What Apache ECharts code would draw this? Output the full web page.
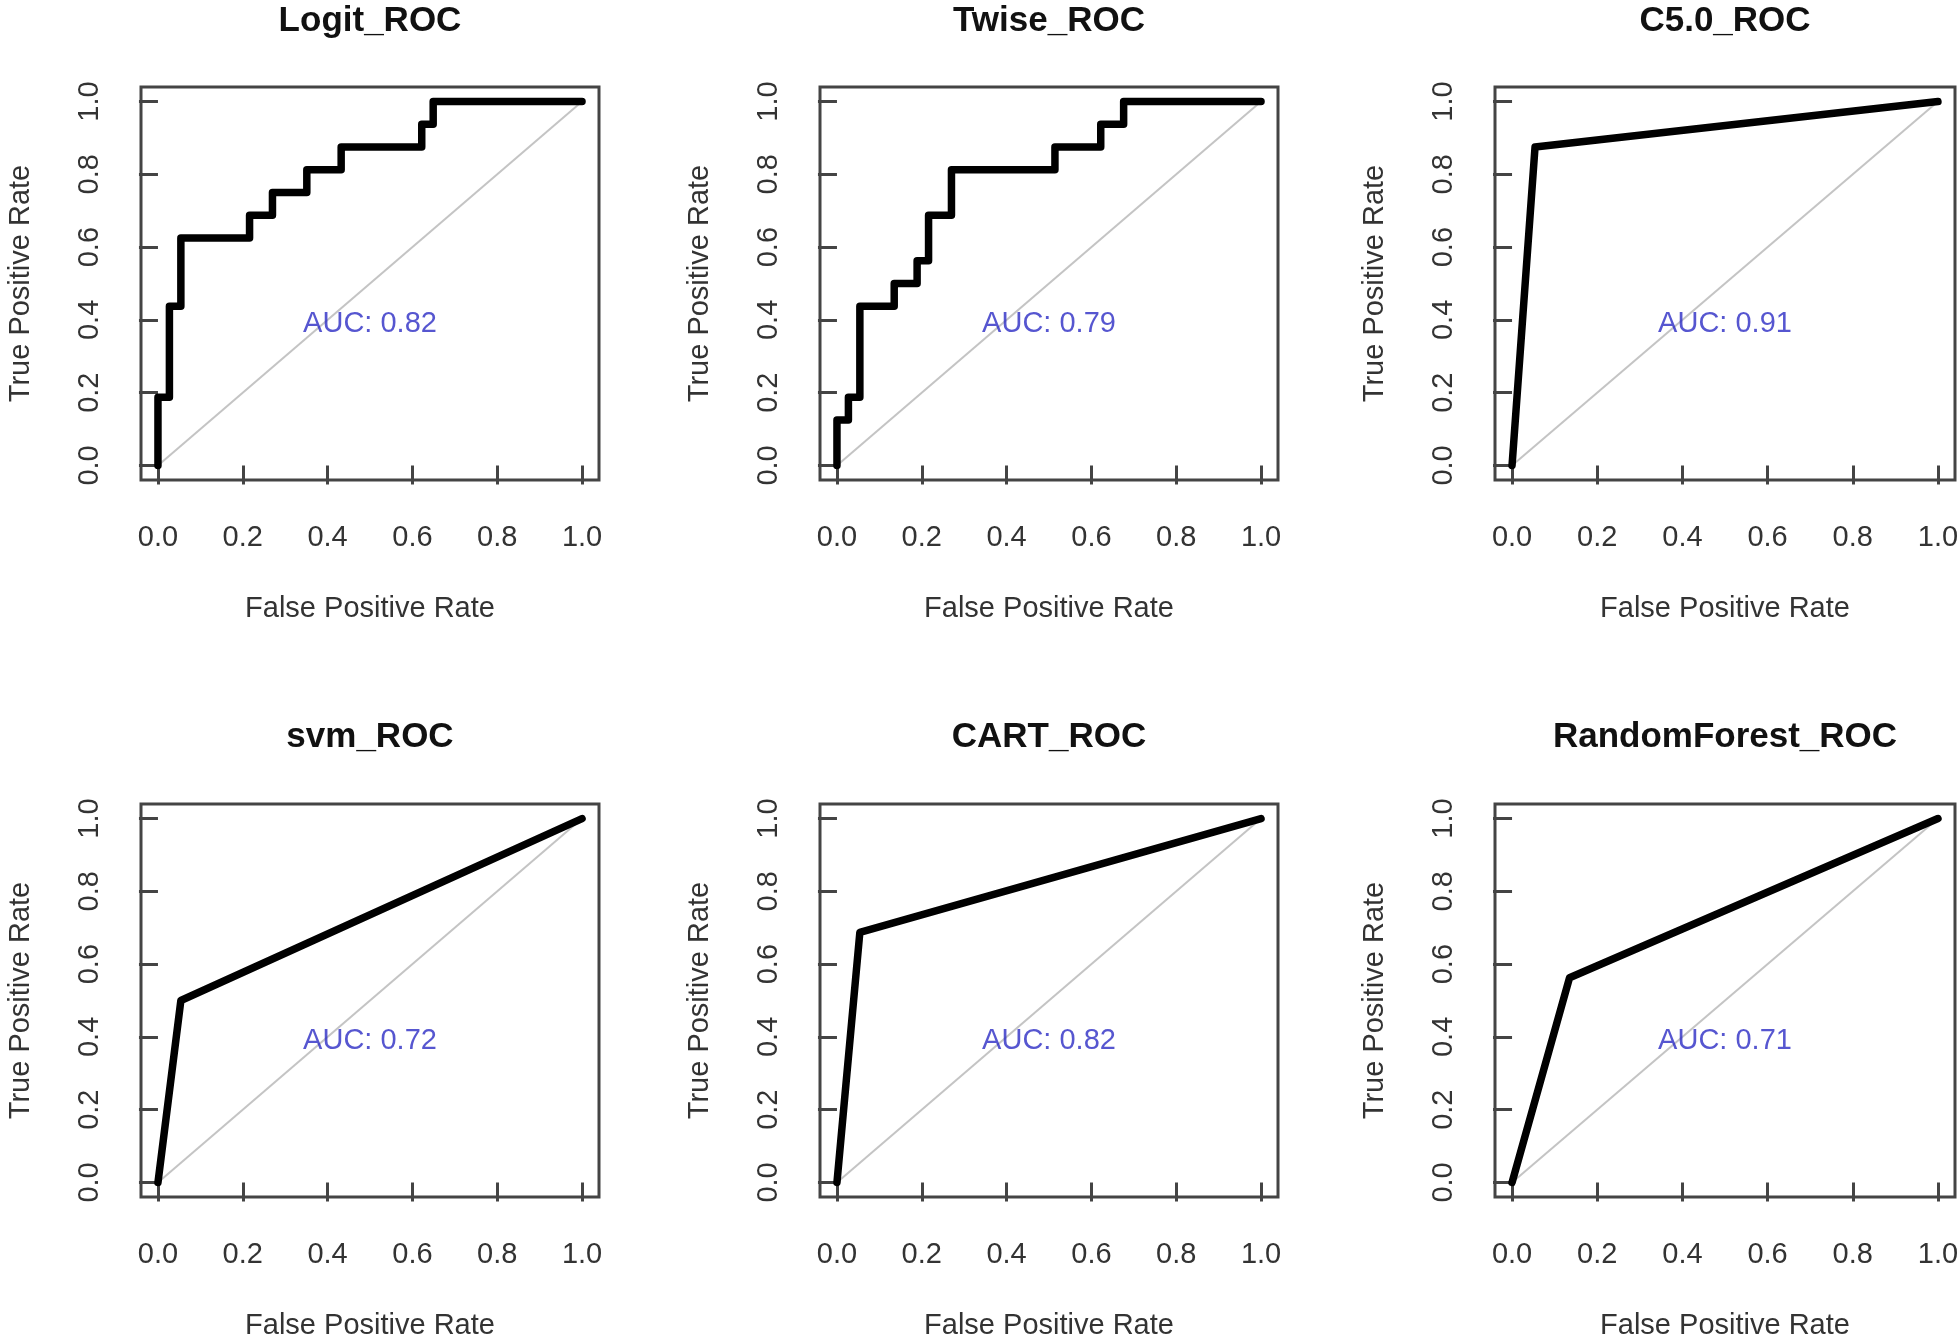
<!DOCTYPE html>
<html>
<head>
<meta charset="utf-8">
<script src="https://cdn.jsdelivr.net/npm/echarts@6/dist/echarts.min.js"></script>
<style>
html,body{margin:0;padding:0;background:#fff;}
#chart{width:1960px;height:1336px;}
</style>
</head>
<body>
<div id="chart"></div>
<script>
// ---- data ----
const titles = ['Logit_ROC', 'Twise_ROC', 'C5.0_ROC', 'svm_ROC', 'CART_ROC', 'RandomForest_ROC'];
const aucValues = ['0.82', '0.79', '0.91', '0.72', '0.82', '0.71'];
const tickValues = [0, 0.2, 0.4, 0.6, 0.8, 1.0];

const logitFPR = [0, 0, 0.027, 0.027, 0.054, 0.054, 0.216, 0.216, 0.270, 0.270, 0.351, 0.351, 0.432, 0.432, 0.622, 0.622, 0.649, 0.649, 1];
const logitTPR = [0, 0.1875, 0.1875, 0.4375, 0.4375, 0.625, 0.625, 0.6875, 0.6875, 0.75, 0.75, 0.8125, 0.8125, 0.875, 0.875, 0.9375, 0.9375, 1, 1];

const twiseFPR = [0, 0, 0.027, 0.027, 0.054, 0.054, 0.135, 0.135, 0.189, 0.189, 0.216, 0.216, 0.270, 0.270, 0.514, 0.514, 0.622, 0.622, 0.676, 0.676, 1];
const twiseTPR = [0, 0.125, 0.125, 0.1875, 0.1875, 0.4375, 0.4375, 0.5, 0.5, 0.5625, 0.5625, 0.6875, 0.6875, 0.8125, 0.8125, 0.875, 0.875, 0.9375, 0.9375, 1, 1];

const c50FPR = [0, 0.054, 1];
const c50TPR = [0, 0.875, 1];

const svmFPR = [0, 0.054, 1];
const svmTPR = [0, 0.5, 1];

const cartFPR = [0, 0.054, 1];
const cartTPR = [0, 0.6875, 1];

const rfFPR = [0, 0.135, 1];
const rfTPR = [0, 0.5625, 1];

const diagFPR = [0, 1];
const diagTPR = [0, 1];

const fprList = [logitFPR, twiseFPR, c50FPR, svmFPR, cartFPR, rfFPR];
const tprList = [logitTPR, twiseTPR, c50TPR, svmTPR, cartTPR, rfTPR];

// ---- layout ----
const colLeft = [141, 820, 1495];
const colWidth = [458, 458, 460];
const rowTop = [87, 804];
const titleTop = [4, 720];
const boxH = 393;
const FONT = '"Liberation Sans", Arial, Helvetica, sans-serif';

const zip = (xs, ys) => xs.map((x, i) => [x, ys[i]]);

const grids = [], xAxes = [], yAxes = [], series = [], titleOpts = [];
for (let i = 0; i < 6; i++) {
  const c = i % 3, r = Math.floor(i / 3);
  grids.push({
    left: colLeft[c], top: rowTop[r], width: colWidth[c], height: boxH,
    show: true, borderColor: '#444', borderWidth: 3, backgroundColor: 'transparent',
    outerBoundsMode: 'none', containLabel: false
  });
  const common = {
    type: 'value', gridIndex: i, min: -0.04, max: 1.04,
    splitLine: { show: false },
    axisLine: { show: false },
    axisTick: { show: true, inside: false, length: 19, customValues: tickValues,
      lineStyle: { color: '#444', width: 3 } },
    axisLabel: { show: true, customValues: tickValues,
      formatter: v => v.toFixed(1),
      color: '#333', fontSize: 29, fontFamily: FONT },
    nameLocation: 'middle',
    nameTextStyle: { color: '#333', fontSize: 29, fontFamily: FONT }
  };
  xAxes.push(Object.assign({}, common, {
    name: 'False Positive Rate', nameGap: 114,
    axisLabel: Object.assign({}, common.axisLabel, { margin: 43 })
  }));
  yAxes.push(Object.assign({}, common, {
    name: 'True Positive Rate', nameGap: 106, nameRotate: 90,
    axisLabel: Object.assign({}, common.axisLabel, { margin: 37, rotate: 90 })
  }));
  series.push({
    type: 'line', xAxisIndex: i, yAxisIndex: i, silent: true,
    data: zip(diagFPR, diagTPR), symbol: 'none',
    lineStyle: { color: '#c4c4c4', width: 2 }, z: 2
  });
  series.push({
    type: 'line', xAxisIndex: i, yAxisIndex: i, silent: true,
    data: zip(fprList[i], tprList[i]), symbol: 'none',
    lineStyle: { color: '#000', width: 7.5, join: 'round', cap: 'round' }, z: 3
  });
  series.push({
    type: 'scatter', xAxisIndex: i, yAxisIndex: i, silent: true,
    data: [[0.5, 0.39]], symbolSize: 0,
    label: { show: true, position: 'inside', formatter: 'AUC: ' + aucValues[i],
      color: '#2c2cc4', fontSize: 29, fontFamily: FONT }, z: 4
  });
  titleOpts.push({
    text: titles[i], left: colLeft[c] + colWidth[c] / 2, top: titleTop[r],
    textAlign: 'center', padding: 0,
    textStyle: { fontSize: 35, fontWeight: 'bold', color: '#111', fontFamily: FONT }
  });
}

const chart = echarts.init(document.getElementById('chart'));
chart.setOption({
  backgroundColor: '#fff',
  animation: false,
  title: titleOpts,
  grid: grids,
  xAxis: xAxes,
  yAxis: yAxes,
  series: series
});
</script>
</body>
</html>
